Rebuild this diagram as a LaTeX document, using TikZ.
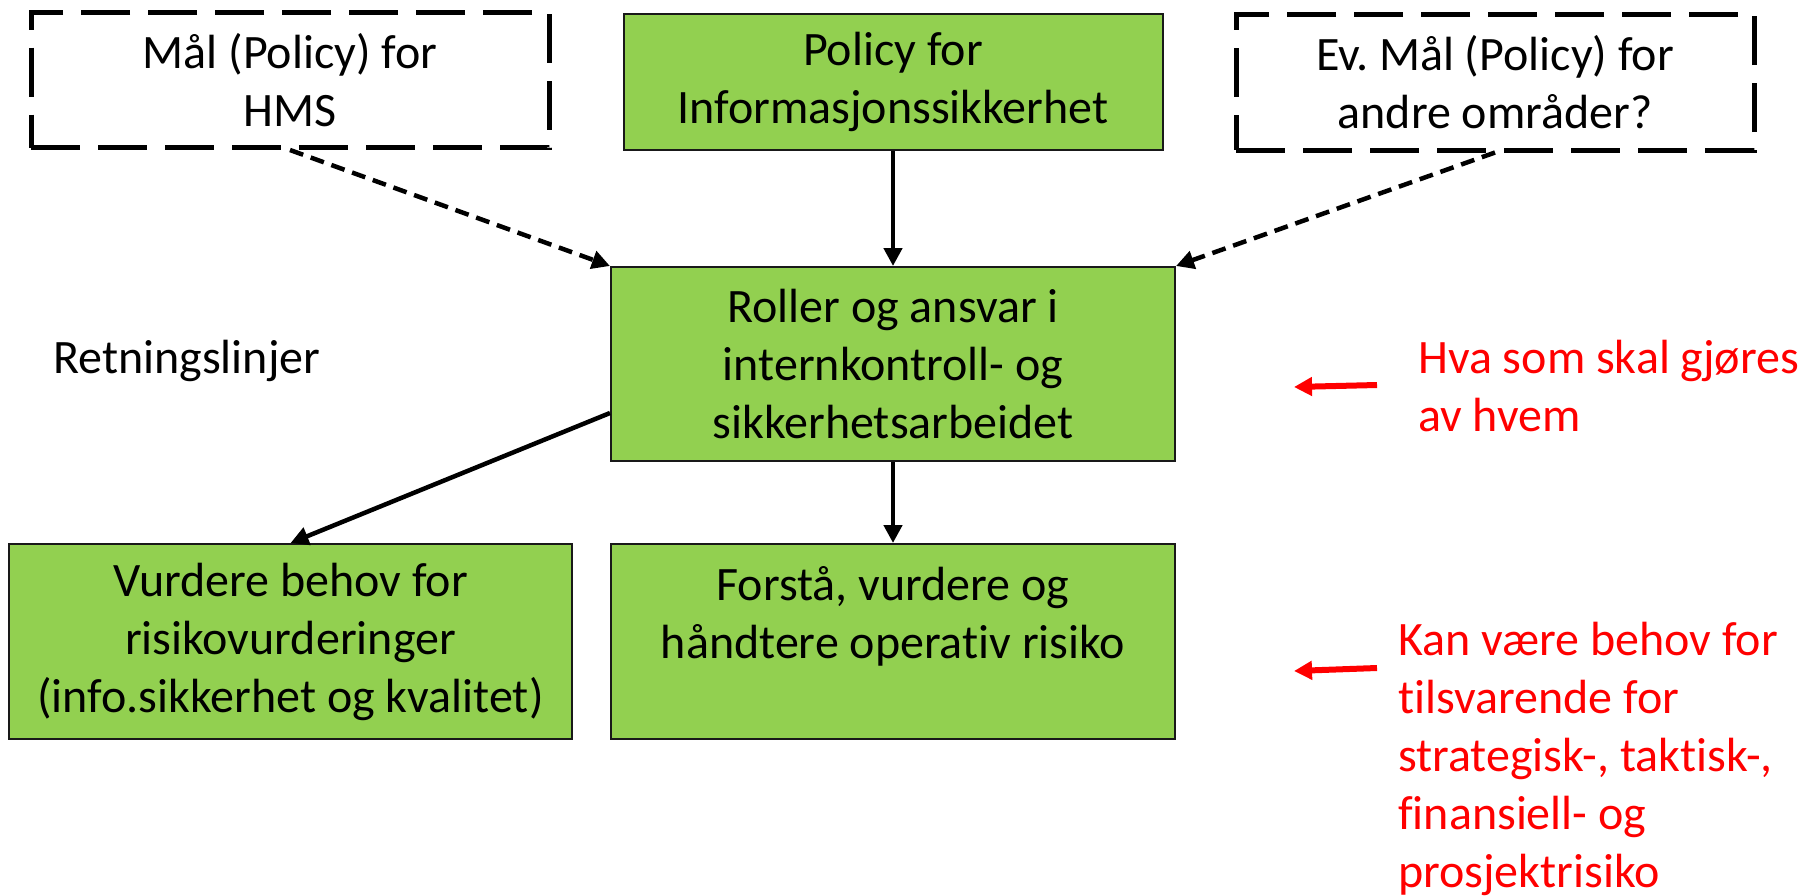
\documentclass[tikz,border=0pt]{standalone}
\usepackage{fontspec}
\setmainfont[Ligatures=NoCommon]{Carlito}
\usetikzlibrary{arrows.meta,calc}

\definecolor{boxgreen}{HTML}{92D050}
\definecolor{notered}{HTML}{FF0000}

\newcommand{\diagfont}{\fontsize{48}{58}\selectfont\frenchspacing}

\tikzset{
  box/.style={draw=black!90, line width=2pt, fill=boxgreen, inner sep=0pt,
              align=center, font=\diagfont},
  dashbox/.style={draw=black, line width=5pt, dash pattern=on 49pt off 18pt,
              inner sep=0pt, align=center, font=\diagfont},
  flow/.style={line width=4.5pt, -{Triangle[length=18pt,width=18pt]}},
  dashflow/.style={flow, dash pattern=on 14pt off 8pt},
  note/.style={text=notered, font=\diagfont, align=left, inner sep=0pt},
  pointer/.style={draw=notered, line width=6pt, -{Triangle[length=18pt,width=18pt]}}
}

\begin{document}
\begin{tikzpicture}[x=1pt, y=-1pt]
  \useasboundingbox (0,0) rectangle (1802,895);

  % top row: policies
  \node[dashbox, minimum width=518pt, minimum height=135pt] (hms) at (290,80)
    {Mål (Policy) for\\HMS};
  \node[box, minimum width=539pt, minimum height=136pt] (pol) at (893,82)
    {Policy for\\Informasjonssikkerhet};
  \node[dashbox, minimum width=518pt, minimum height=136pt] (ev) at (1495,82)
    {Ev. Mål (Policy) for\\andre områder?};

  % middle: roles and responsibilities
  \node[box, minimum width=564pt, minimum height=194pt] (rol) at (893,364)
    {Roller og ansvar i\\internkontroll- og\\sikkerhetsarbeidet};

  % bottom row: risk work
  \node[box, minimum width=563pt, minimum height=195pt] (vur) at (290.5,641.5)
    {Vurdere behov for\\risikovurderinger\\(info.sikkerhet og kvalitet)};
  \node[box, minimum width=564pt, minimum height=195pt] (for) at (893,641.5)
    {Forstå, vurdere og\\håndtere operativ risiko\\\mbox{}};

  \node[font=\diagfont, anchor=base west, inner sep=0pt] (ret) at (53,373)
    {Retningslinjer};

  % connectors
  \draw[dashflow] (hms.south) -- (rol.north west);
  \draw[flow] (pol.south) -- (rol.north);
  \draw[dashflow] (ev.south) -- (rol.north east);
  \draw[flow] ($(rol.north west)!0.75!(rol.south west)$) -- (vur.north);
  \draw[flow] (rol.south) -- (for.north);

  % side notes (anchored at the baseline of their last line)
  \node[note, anchor=base west] (hva) at (1418,431)
    {Hva som skal gjøres\\av hvem};
  \node[note, anchor=base west] (kan) at (1398,887)
    {Kan være behov for\\tilsvarende for\\strategisk-, taktisk-,\\finansiell- og\\prosjektrisiko};

  \coordinate (hvaTail) at (1377,385);
  \coordinate (hvaTip) at (1294,387);
  \coordinate (kanTail) at (1377,668);
  \coordinate (kanTip) at (1294,671);
  \draw[pointer] (hvaTail) -- (hvaTip);
  \draw[pointer] (kanTail) -- (kanTip);
\end{tikzpicture}
\end{document}
